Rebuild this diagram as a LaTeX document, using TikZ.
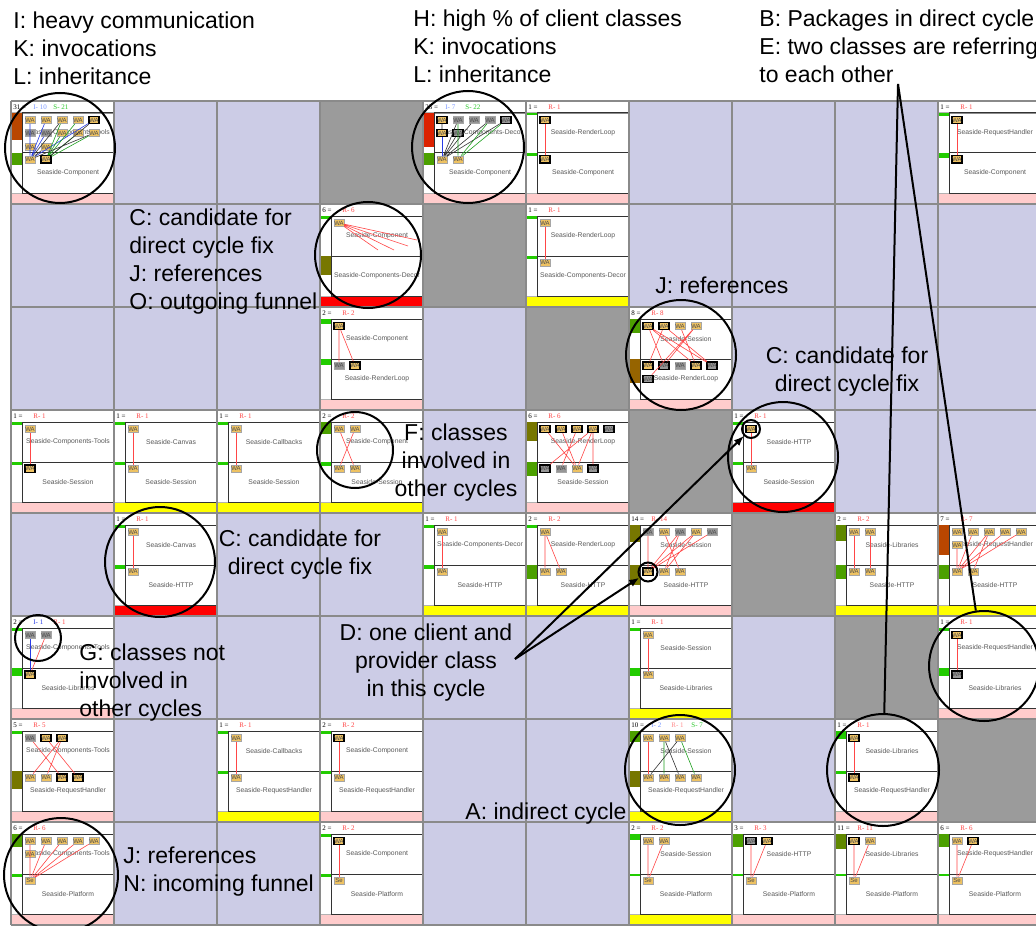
\documentclass[tikz,border=0pt]{standalone}
\usepackage{fontspec}
\setmainfont{Liberation Sans}
\newfontfamily\hdrfont{Liberation Serif}
\usetikzlibrary{arrows.meta}

\definecolor{lav}{RGB}{204,204,230}
\definecolor{diaggrey}{RGB}{155,155,155}
\definecolor{gridgrey}{RGB}{138,138,138}
\definecolor{stripink}{RGB}{255,204,204}
\definecolor{stripyellow}{RGB}{255,255,0}
\definecolor{stripred}{RGB}{255,0,0}
\definecolor{waorange}{RGB}{238,194,98}
\definecolor{wagrey}{RGB}{150,150,150}
\definecolor{indgreen}{RGB}{34,204,0}
\definecolor{inddkgreen}{RGB}{76,160,0}
\definecolor{indleaf}{RGB}{96,136,0}
\definecolor{indolive}{RGB}{119,119,0}
\definecolor{indbrown}{RGB}{150,100,0}
\definecolor{indrust}{RGB}{185,70,0}
\definecolor{indred}{RGB}{220,34,0}
\definecolor{invlight}{RGB}{120,150,255}
\definecolor{invblue}{RGB}{40,60,230}
\definecolor{subgreen}{RGB}{40,200,40}
\definecolor{refred}{RGB}{255,70,70}
\definecolor{refpink}{RGB}{255,140,140}

\tikzset{
  pkg/.style 2 args={shift={({11+103*#1},{101+103*#2})}},
  wa/.style={draw=black!35, line width=0.25pt, fill=waorange, inner sep=0pt,
    minimum width=5pt, minimum height=3.6pt, font=\fontsize{3}{3}\selectfont, text=black!70},
  wab/.style={wa, draw=black, line width=0.6pt},
  wag/.style={wa, fill=wagrey},
  wagb/.style={wab, fill=wagrey},
  hdr/.style={anchor=west, inner sep=0pt, font=\hdrfont\fontsize{3.5}{4}\selectfont},
  pkgname/.style={inner sep=0pt, text=black!65, font=\fontsize{3.4}{4}\selectfont},
  ref/.style={refred, line width=0.3pt},
  inv/.style={invblue, line width=0.3pt},
  sub/.style={subgreen!80!black, line width=0.3pt},
  call/.style={black!80, line width=0.3pt},
  ring/.style={draw, circle, line width=1pt, inner sep=0pt},
  note/.style={inner sep=0pt, font=\fontsize{11.5}{14}\selectfont},
  pointer/.style={line width=1pt},
}

% one matrix cell: count, header labels, upper package, lower package, strip colour
\newcommand\cellframe[5]{%
  \fill[white] (0,0) rectangle (103,92);
  \fill[#5] (0,92) rectangle (103,103);
  \draw[black!45, line width=0.3pt] (0,0) rectangle (103,12);
  \draw[black!30, line width=0.5pt] (0,12) rectangle (11,92);
  \draw[black!80, line width=0.5pt] (11,12) rectangle (103,52) (11,52) rectangle (103,92);
  \node[hdr] at (2,6) {#1 =};
  #2
  \node[pkgname] at (57,32) {#3};
  \node[pkgname] at (57,72) {#4};
}
\newcommand\lbl[3]{\node[hdr, text=#2] at (#1,6) {#3};}
\newcommand\ind[3]{\fill[#3] (0,#1) rectangle (11,#2);}
\newcommand\cls[4]{\node[#1] (#2) at (#3,#4) {WA};}

\begin{document}
\begin{tikzpicture}[x=0.5pt, y=-0.5pt]
\useasboundingbox (0,0) rectangle (1036,925);
\clip (0,0) rectangle (1036,925);

% matrix background
\fill[lav] (11,101) rectangle (1041,925);
\foreach \r in {0,...,6}
  \fill[diaggrey] ({11+103*(\r+3)},{101+103*\r}) rectangle ++(103,103);

% ---- row 0
\begin{scope}[pkg={0}{0}]
  \cellframe{31}{\lbl{22}{invlight}{I- 10}\lbl{42}{subgreen}{S- 21}}{Seaside-Components-Tools}{Seaside-Component}{stripink}
  \ind{12}{39}{indrust} \ind{52}{64}{inddkgreen}
  \cls{wa}{c00u1}{19}{19} \cls{wa}{c00u2}{35}{19} \cls{wa}{c00u3}{51}{19} \cls{wa}{c00u4}{67}{19} \cls{wab}{c00u5}{83}{19}
  \cls{wag}{c00u6}{19}{32} \cls{wag}{c00u7}{35}{32} \cls{wa}{c00u8}{51}{32} \cls{wa}{c00u9}{67}{32} \cls{wa}{c00u10}{83}{32}
  \cls{wa}{c00u11}{19}{46} \cls{wa}{c00u12}{35}{46}
  \cls{wa}{c00l1}{19}{58.5} \cls{wab}{c00l2}{35}{58.5}
  \draw[inv] (c00u1) -- (c00l1) (c00u2) -- (c00l1) (c00u5) -- (c00l1) (c00u6) -- (c00l1) (c00u7) -- (c00l1) (c00u11) -- (c00l1);
  \draw[sub] (c00u3) -- (c00l2) (c00u4) -- (c00l2) (c00u8) -- (c00l2) (c00u9) -- (c00l2) (c00u10) -- (c00l2);
  \draw[call] (c00u3) -- (c00l1) (c00u10) -- (c00l1) (c00u12) -- (c00l1) (c00u5) -- (c00l2);
\end{scope}
\begin{scope}[pkg={4}{0}]
  \cellframe{25}{\lbl{22}{invlight}{I- 7}\lbl{42}{subgreen}{S- 22}}{Seaside-Components-Decor}{Seaside-Component}{stripink}
  \ind{12}{46}{indred} \ind{52}{64}{inddkgreen}
  \cls{wab}{c04u1}{19}{19} \cls{wag}{c04u2}{35}{19} \cls{wag}{c04u3}{51}{19} \cls{wag}{c04u4}{67}{19} \cls{wagb}{c04u5}{83}{19}
  \cls{wab}{c04u6}{19}{32} \cls{wagb}{c04u7}{35}{32}
  \cls{wa}{c04l1}{19}{58.5} \cls{wa}{c04l2}{35}{58.5}
  \draw[inv] (c04u6) -- (c04l1);
  \draw[call] (c04u1) -- (c04u6) (c04u2) -- (c04l1) (c04u3) -- (c04l1) (c04u4) -- (c04l1) (c04u5) -- (c04l1) (c04u7) -- (c04l1);
  \draw[sub] (c04u2) -- (c04l2) (c04u4) -- (c04l2) (c04u5) -- (c04l2) (c04u7) -- (c04l2);
\end{scope}
\begin{scope}[pkg={5}{0}]
  \cellframe{1}{\lbl{22}{refred}{R- 1}}{Seaside-RenderLoop}{Seaside-Component}{stripink}
  \ind{12}{14.5}{indgreen} \ind{52}{55}{indgreen}
  \cls{wab}{c05u1}{19}{19} \cls{wab}{c05l1}{19}{58.5}
  \draw[ref] (c05u1) -- (c05l1);
\end{scope}
\begin{scope}[pkg={9}{0}]
  \cellframe{1}{\lbl{22}{refred}{R- 1}}{Seaside-RequestHandler}{Seaside-Component}{stripink}
  \ind{12}{15}{indgreen} \ind{52}{57}{indgreen}
  \cls{wab}{c09u1}{19}{19} \cls{wab}{c09l1}{19}{58.5}
  \draw[ref] (c09u1) -- (c09l1);
\end{scope}

% ---- row 1
\begin{scope}[pkg={3}{1}]
  \cellframe{6}{\lbl{22}{refred}{R- 6}}{Seaside-Component}{Seaside-Components-Decor}{stripred}
  \ind{12}{14.5}{indgreen} \ind{52}{71}{indolive}
  \cls{wa}{c13u1}{19}{19}
  \coordinate (c13e1) at (58,46); \coordinate (c13e2) at (74,46);
  \coordinate (c13e3) at (88,42); \coordinate (c13e4) at (97,36);
  \draw[ref] (c13u1) -- (c13e1) (c13u1) -- (c13e2) (c13u1) -- (c13e3) (c13u1) -- (c13e4);
\end{scope}
\begin{scope}[pkg={5}{1}]
  \cellframe{1}{\lbl{22}{refred}{R- 1}}{Seaside-RenderLoop}{Seaside-Components-Decor}{stripyellow}
  \ind{12}{14.5}{indgreen} \ind{52}{55}{indgreen}
  \cls{wa}{c15u1}{19}{19} \cls{wa}{c15l1}{19}{58.5}
  \draw[ref] (c15u1) -- (c15l1);
\end{scope}

% ---- row 2
\begin{scope}[pkg={3}{2}]
  \cellframe{2}{\lbl{22}{refred}{R- 2}}{Seaside-Component}{Seaside-RenderLoop}{stripink}
  \ind{12}{17}{indgreen} \ind{52}{58}{indgreen}
  \cls{wab}{c23u1}{19}{19}
  \cls{wag}{c23l1}{19}{58.5} \cls{wab}{c23l2}{35}{58.5}
  \draw[ref] (c23u1) -- (c23l1) (c23u1) -- (c23l2);
\end{scope}
\begin{scope}[pkg={6}{2}]
  \cellframe{8}{\lbl{22}{refred}{R- 8}}{Seaside-Session}{Seaside-RenderLoop}{stripink}
  \ind{12}{26}{inddkgreen} \ind{52}{76}{indbrown}
  \cls{wab}{c26u1}{19}{19} \cls{wab}{c26u2}{35}{19} \cls{wa}{c26u3}{51}{19} \cls{wa}{c26u4}{67}{19}
  \cls{wab}{c26l1}{19}{58.5} \cls{wagb}{c26l2}{35}{58.5} \cls{wag}{c26l3}{51}{58.5} \cls{wab}{c26l4}{67}{58.5} \cls{wagb}{c26l5}{83}{58.5}
  \cls{wagb}{c26l6}{19}{72}
  \draw[ref] (c26u1) -- (c26l2) (c26u1) -- (c26l4) (c26u1) -- (c26l5) (c26u2) -- (c26l1) (c26u2) -- (c26l5)
    (c26u3) -- (c26l4) (c26u4) -- (c26l2) (c26u4) -- (c26l6);
\end{scope}

% ---- row 3
\begin{scope}[pkg={0}{3}]
  \cellframe{1}{\lbl{22}{refred}{R- 1}}{Seaside-Components-Tools}{Seaside-Session}{stripink}
  \ind{12}{14.5}{indgreen} \ind{52}{55}{indgreen}
  \cls{wa}{c30u1}{19}{19} \cls{wab}{c30l1}{19}{58.5}
  \draw[ref] (c30u1) -- (c30l1);
\end{scope}
\begin{scope}[pkg={1}{3}]
  \cellframe{1}{\lbl{22}{refred}{R- 1}}{Seaside-Canvas}{Seaside-Session}{stripyellow}
  \ind{12}{14.5}{indgreen} \ind{52}{55}{indgreen}
  \cls{wa}{c31u1}{19}{19} \cls{wa}{c31l1}{19}{58.5}
  \draw[ref] (c31u1) -- (c31l1);
\end{scope}
\begin{scope}[pkg={2}{3}]
  \cellframe{1}{\lbl{22}{refred}{R- 1}}{Seaside-Callbacks}{Seaside-Session}{stripyellow}
  \ind{12}{14.5}{indgreen} \ind{52}{55}{indgreen}
  \cls{wa}{c32u1}{19}{19} \cls{wa}{c32l1}{19}{58.5}
  \draw[ref] (c32u1) -- (c32l1);
\end{scope}
\begin{scope}[pkg={3}{3}]
  \cellframe{2}{\lbl{22}{refred}{R- 2}}{Seaside-Component}{Seaside-Session}{stripyellow}
  \ind{12}{24}{inddkgreen} \ind{52}{56}{indgreen}
  \cls{wa}{c33u1}{19}{19} \cls{wa}{c33u2}{35}{19}
  \cls{wa}{c33l1}{19}{58.5} \cls{wa}{c33l2}{35}{58.5}
  \draw[ref] (c33u1) -- (c33l2) (c33u2) -- (c33l1);
\end{scope}
\begin{scope}[pkg={5}{3}]
  \cellframe{6}{\lbl{22}{refred}{R- 6}}{Seaside-RenderLoop}{Seaside-Session}{stripink}
  \ind{12}{31}{indolive} \ind{52}{66}{inddkgreen}
  \cls{wab}{c35u1}{19}{19} \cls{wab}{c35u2}{35}{19} \cls{wab}{c35u3}{51}{19} \cls{wab}{c35u4}{67}{19} \cls{wagb}{c35u5}{83}{19}
  \cls{wagb}{c35l1}{19}{58.5} \cls{wag}{c35l2}{35}{58.5} \cls{wa}{c35l3}{51}{58.5} \cls{wagb}{c35l4}{67}{58.5}
  \draw[ref] (c35u1) -- (c35l3) (c35u2) -- (c35l3) (c35u3) -- (c35l2) (c35u4) -- (c35l1) (c35u4) -- (c35l3) (c35u4) -- (c35l4);
\end{scope}
\begin{scope}[pkg={7}{3}]
  \cellframe{1}{\lbl{22}{refred}{R- 1}}{Seaside-HTTP}{Seaside-Session}{stripred}
  \ind{12}{14.5}{indgreen} \ind{52}{55}{indgreen}
  \cls{wab}{c37u1}{19}{19} \cls{wa}{c37l1}{19}{58.5}
  \draw[ref] (c37u1) -- (c37l1);
\end{scope}

% ---- row 4
\begin{scope}[pkg={1}{4}]
  \cellframe{1}{\lbl{22}{refred}{R- 1}}{Seaside-Canvas}{Seaside-HTTP}{stripred}
  \ind{12}{14.5}{indgreen} \ind{52}{56}{indgreen}
  \cls{wa}{c41u1}{19}{19} \cls{wa}{c41l1}{19}{58.5}
  \draw[ref] (c41u1) -- (c41l1);
\end{scope}
\begin{scope}[pkg={4}{4}]
  \cellframe{1}{\lbl{22}{refred}{R- 1}}{Seaside-Components-Decor}{Seaside-HTTP}{stripyellow}
  \ind{12}{14.5}{indgreen} \ind{52}{56}{indgreen}
  \cls{wa}{c44u1}{19}{19} \cls{wa}{c44l1}{19}{58.5}
  \draw[ref] (c44u1) -- (c44l1);
\end{scope}
\begin{scope}[pkg={5}{4}]
  \cellframe{2}{\lbl{22}{refred}{R- 2}}{Seaside-RenderLoop}{Seaside-HTTP}{stripyellow}
  \ind{12}{14.5}{indgreen} \ind{52}{66}{inddkgreen}
  \cls{wa}{c45u1}{19}{19}
  \cls{wa}{c45l1}{19}{58.5} \cls{wa}{c45l2}{35}{58.5}
  \draw[ref] (c45u1) -- (c45l1) (c45u1) -- (c45l2);
\end{scope}
\begin{scope}[pkg={6}{4}]
  \cellframe{14}{\lbl{22}{refred}{R- 14}}{Seaside-Session}{Seaside-HTTP}{stripink}
  \ind{12}{29}{indolive} \ind{52}{72}{indolive}
  \cls{wag}{c46u1}{19}{19} \cls{wa}{c46u2}{35}{19} \cls{wag}{c46u3}{51}{19} \cls{wa}{c46u4}{67}{19} \cls{wag}{c46u5}{83}{19}
  \cls{wab}{c46l1}{19}{58.5} \cls{wa}{c46l2}{35}{58.5} \cls{wa}{c46l3}{51}{58.5}
  \draw[ref] (c46u1) -- (c46l1) (c46u2) -- (c46l3) (c46u3) -- (c46l1) (c46u3) -- (c46l2)
    (c46u4) -- (c46l1) (c46u4) -- (c46l2) (c46u5) -- (c46l1);
\end{scope}
\begin{scope}[pkg={8}{4}]
  \cellframe{2}{\lbl{22}{refred}{R- 2}}{Seaside-Libraries}{Seaside-HTTP}{stripyellow}
  \ind{12}{28}{indleaf} \ind{52}{66}{inddkgreen}
  \cls{wa}{c48u1}{19}{19} \cls{wa}{c48u2}{35}{19}
  \cls{wa}{c48l1}{19}{58.5} \cls{wa}{c48l2}{35}{58.5}
  \draw[ref] (c48u1) -- (c48l1) (c48u2) -- (c48l2);
\end{scope}
\begin{scope}[pkg={9}{4}]
  \cellframe{7}{\lbl{22}{refred}{R- 7}}{Seaside-RequestHandler}{Seaside-HTTP}{stripyellow}
  \ind{12}{42}{indrust} \ind{52}{66}{inddkgreen}
  \cls{wa}{c49u1}{19}{19} \cls{wa}{c49u2}{35}{19} \cls{wa}{c49u3}{51}{19} \cls{wa}{c49u4}{67}{19} \cls{wa}{c49u5}{83}{19}
  \cls{wa}{c49u6}{19}{32}
  \cls{wa}{c49l1}{19}{58.5} \cls{wa}{c49l2}{35}{58.5}
  \draw[ref] (c49u6) -- (c49l1) (c49u2) -- (c49l1) (c49u3) -- (c49l1) (c49u4) -- (c49l1) (c49u5) -- (c49l1) (c49u3) -- (c49l2);
\end{scope}

% ---- row 5
\begin{scope}[pkg={0}{5}]
  \cellframe{2}{\lbl{22}{invblue}{I- 1}\lbl{42}{refred}{R- 1}}{Seaside-Components-Tools}{Seaside-Libraries}{stripink}
  \ind{12}{15}{indgreen} \ind{52}{60}{indgreen}
  \cls{wag}{c50u1}{19}{19} \cls{wag}{c50u2}{35}{19}
  \cls{wab}{c50l1}{19}{58.5}
  \draw[inv] (c50u1) -- (c50l1);
  \draw[ref] (c50u2) -- (c50l1);
\end{scope}
\begin{scope}[pkg={6}{5}]
  \cellframe{1}{\lbl{22}{refred}{R- 1}}{Seaside-Session}{Seaside-Libraries}{stripyellow}
  \ind{12}{14.5}{indgreen} \ind{52}{60}{indgreen}
  \cls{wa}{c56u1}{19}{19} \cls{wa}{c56l1}{19}{58.5}
  \draw[ref] (c56u1) -- (c56l1);
\end{scope}
\begin{scope}[pkg={9}{5}]
  \cellframe{1}{\lbl{22}{refred}{R- 1}}{Seaside-RequestHandler}{Seaside-Libraries}{stripink}
  \ind{12}{14.5}{indgreen} \ind{52}{60}{indgreen}
  \cls{wab}{c59u1}{19}{19} \cls{wagb}{c59l1}{19}{58.5}
  \draw[ref] (c59u1) -- (c59l1);
\end{scope}

% ---- row 6
\begin{scope}[pkg={0}{6}]
  \cellframe{5}{\lbl{22}{refred}{R- 5}}{Seaside-Components-Tools}{Seaside-RequestHandler}{stripink}
  \ind{12}{15}{indgreen} \ind{52}{70}{indolive}
  \cls{wag}{c60u1}{19}{19} \cls{wab}{c60u2}{35}{19} \cls{wab}{c60u3}{51}{19}
  \cls{wa}{c60l1}{19}{58.5} \cls{wa}{c60l2}{35}{58.5} \cls{wab}{c60l3}{51}{58.5} \cls{wab}{c60l4}{67}{58.5}
  \draw[ref] (c60u1) -- (c60l3) (c60u2) -- (c60l4) (c60u3) -- (c60l1) (c60u3) -- (c60l2);
\end{scope}
\begin{scope}[pkg={2}{6}]
  \cellframe{1}{\lbl{22}{refred}{R- 1}}{Seaside-Callbacks}{Seaside-RequestHandler}{stripyellow}
  \ind{12}{14.5}{indgreen} \ind{52}{55}{indgreen}
  \cls{wa}{c62u1}{19}{19} \cls{wa}{c62l1}{19}{58.5}
  \draw[ref] (c62u1) -- (c62l1);
\end{scope}
\begin{scope}[pkg={3}{6}]
  \cellframe{2}{\lbl{22}{refred}{R- 2}}{Seaside-Component}{Seaside-RequestHandler}{stripink}
  \ind{12}{14.5}{indgreen} \ind{52}{55}{indgreen}
  \cls{wab}{c63u1}{19}{19} \cls{wa}{c63l1}{19}{58.5}
  \draw[ref] (c63u1) -- (c63l1);
\end{scope}
\begin{scope}[pkg={6}{6}]
  \cellframe{10}{\lbl{22}{invlight}{I- 2}\lbl{42}{refpink}{R- 1}\lbl{62}{subgreen}{S- 7}}{Seaside-Session}{Seaside-RequestHandler}{stripyellow}
  \ind{12}{23}{inddkgreen} \ind{52}{68}{indolive}
  \cls{wa}{c66u1}{19}{19} \cls{wa}{c66u2}{35}{19} \cls{wa}{c66u3}{51}{19}
  \cls{wa}{c66l1}{19}{58.5} \cls{wa}{c66l2}{35}{58.5} \cls{wa}{c66l3}{51}{58.5} \cls{wa}{c66l4}{67}{58.5}
  \draw[ref] (c66u1) -- (c66l1);
  \draw[sub] (c66u2) -- (c66l2) (c66u3) -- (c66l4);
  \draw[call] (c66u2) -- (c66l3) (c66u3) -- (c66l1);
\end{scope}
\begin{scope}[pkg={8}{6}]
  \cellframe{1}{\lbl{22}{refred}{R- 1}}{Seaside-Libraries}{Seaside-RequestHandler}{stripink}
  \ind{12}{20}{indgreen} \ind{52}{55}{indgreen}
  \cls{wab}{c68u1}{19}{19} \cls{wab}{c68l1}{19}{58.5}
  \draw[ref] (c68u1) -- (c68l1);
\end{scope}

% ---- row 7
\begin{scope}[pkg={0}{7}]
  \cellframe{6}{\lbl{22}{refred}{R- 6}}{Seaside-Components-Tools}{Seaside-Platform}{stripink}
  \ind{12}{25}{inddkgreen} \ind{52}{55}{indgreen}
  \cls{wa}{c70u1}{19}{19} \cls{wa}{c70u2}{35}{19} \cls{wa}{c70u3}{51}{19} \cls{wa}{c70u4}{67}{19} \cls{wa}{c70u5}{83}{19}
  \cls{wa}{c70u6}{19}{32}
  \node[wa] (c70l1) at (19,58.5) {Se};
  \draw[ref] (c70u1) -- (c70l1) (c70u2) -- (c70l1) (c70u3) -- (c70l1) (c70u4) -- (c70l1) (c70u5) -- (c70l1) (c70u6) -- (c70l1);
\end{scope}
\begin{scope}[pkg={3}{7}]
  \cellframe{2}{\lbl{22}{refred}{R- 2}}{Seaside-Component}{Seaside-Platform}{stripink}
  \ind{12}{14.5}{indgreen} \ind{52}{55}{indgreen}
  \cls{wab}{c73u1}{19}{19}
  \node[wa] (c73l1) at (19,58.5) {Se};
  \draw[ref] (c73u1) -- (c73l1);
\end{scope}
\begin{scope}[pkg={6}{7}]
  \cellframe{2}{\lbl{22}{refred}{R- 2}}{Seaside-Session}{Seaside-Platform}{stripyellow}
  \ind{12}{18}{indgreen} \ind{52}{54}{indgreen}
  \cls{wa}{c76u1}{19}{19} \cls{wa}{c76u2}{35}{19}
  \node[wa] (c76l1) at (19,58.5) {Se};
  \draw[ref] (c76u1) -- (c76l1) (c76u2) -- (c76l1);
\end{scope}
\begin{scope}[pkg={7}{7}]
  \cellframe{3}{\lbl{22}{refred}{R- 3}}{Seaside-HTTP}{Seaside-Platform}{stripink}
  \ind{12}{25}{inddkgreen} \ind{52}{54}{indgreen}
  \cls{wagb}{c77u1}{19}{19} \cls{wab}{c77u2}{35}{19}
  \node[wa] (c77l1) at (19,58.5) {Se};
  \draw[ref] (c77u1) -- (c77l1) (c77u2) -- (c77l1);
\end{scope}
\begin{scope}[pkg={8}{7}]
  \cellframe{11}{\lbl{22}{refred}{R- 11}}{Seaside-Libraries}{Seaside-Platform}{stripink}
  \ind{12}{27}{indleaf} \ind{52}{54}{indgreen}
  \cls{wab}{c78u1}{19}{19} \cls{wa}{c78u2}{35}{19}
  \node[wa] (c78l1) at (19,58.5) {Se};
  \draw[ref] (c78u1) -- (c78l1) (c78u2) -- (c78l1);
\end{scope}
\begin{scope}[pkg={9}{7}]
  \cellframe{6}{\lbl{22}{refred}{R- 6}}{Seaside-RequestHandler}{Seaside-Platform}{stripink}
  \ind{12}{25}{inddkgreen} \ind{52}{54}{indgreen}
  \cls{wa}{c79u1}{19}{19} \cls{wab}{c79u2}{35}{19}
  \node[wa] (c79l1) at (19,58.5) {Se};
  \draw[ref] (c79u1) -- (c79l1) (c79u2) -- (c79l1);
\end{scope}

% grid lines
\foreach \c in {0,...,10}
  \draw[gridgrey, line width=0.75pt] ({11+103*\c},101) -- ({11+103*\c},925);
\foreach \r in {0,...,8}
  \draw[gridgrey, line width=0.75pt] (11,{101+103*\r}) -- (1041,{101+103*\r});

% highlight rings
\node[ring, minimum size=55pt] (ringcomm) at (60,148) {};
\node[ring, minimum size=56pt] (ringdecor) at (468,147) {};
\node[ring, minimum size=53pt] (ringout) at (368,255) {};
\node[ring, minimum size=55pt] (ringrefs) at (681,355) {};
\node[ring, minimum size=38pt] (ringothers) at (355,450) {};
\node[ring, minimum size=55pt] (ringfixa) at (783,457) {};
\node[ring, minimum size=9pt] (ringhttp) at (751,429) {};
\node[ring, minimum size=55pt] (ringfixb) at (160,562) {};
\node[ring, minimum size=23pt] (ringnot) at (38,638) {};
\node[ring, minimum size=9.5pt] (ringsess) at (648,572) {};
\node[ring, minimum size=55pt] (ringlibs) at (984,666) {};
\node[ring, minimum size=56pt] (ringreq) at (883,770) {};
\node[ring, minimum size=55pt] (ringind) at (680,770) {};
\node[ring, minimum size=57pt] (ringin) at (61,875) {};

% annotations
\node[note, anchor=north west, align=left] (noteI) at (13,11.5) {I: heavy communication\\K: invocations\\L: inheritance};
\node[note, anchor=north west, align=left] (noteH) at (413,9.5) {H: high \% of client classes\\K: invocations\\L: inheritance};
\node[note, anchor=north west, align=left] (noteB) at (759,9.5) {B: Packages in direct cycle\\E: two classes are referring\\to each other};
\node[note, anchor=north west, align=left] (noteC) at (129,208.5) {C: candidate for\\direct cycle fix\\J: references\\O: outgoing funnel};
\node[note, anchor=north west] (noteJ) at (655,276.5) {J: references};
\node[note, anchor=north, align=center] (noteCb) at (847,346.5) {C: candidate for\\direct cycle fix};
\node[note, anchor=north, align=center] (noteF) at (456,423.5) {F: classes\\involved in\\other cycles};
\node[note, anchor=north, align=center] (noteCc) at (300,529.5) {C: candidate for\\direct cycle fix};
\node[note, anchor=north, align=center] (noteD) at (426,623.5) {D: one client and\\provider class\\in this cycle};
\node[note, anchor=north west, align=left] (noteG) at (79,643.5) {G: classes not\\involved in\\other cycles};
\node[note, anchor=north west] (noteA) at (465,802.5) {A: indirect cycle};
\node[note, anchor=north west, align=left] (noteN) at (123,846.5) {J: references\\N: incoming funnel};

% pointers
\coordinate (bsrc) at (898,84);
\draw[pointer] (bsrc) -- (ringreq);
\draw[pointer] (bsrc) -- (ringlibs);
\coordinate (dsrc) at (515,659);
\draw[pointer, -{Latex[length=5pt, width=4pt]}] (dsrc) -- (ringhttp);
\draw[pointer, -{Latex[length=5pt, width=4pt]}] (dsrc) -- (ringsess);
\end{tikzpicture}
\end{document}
